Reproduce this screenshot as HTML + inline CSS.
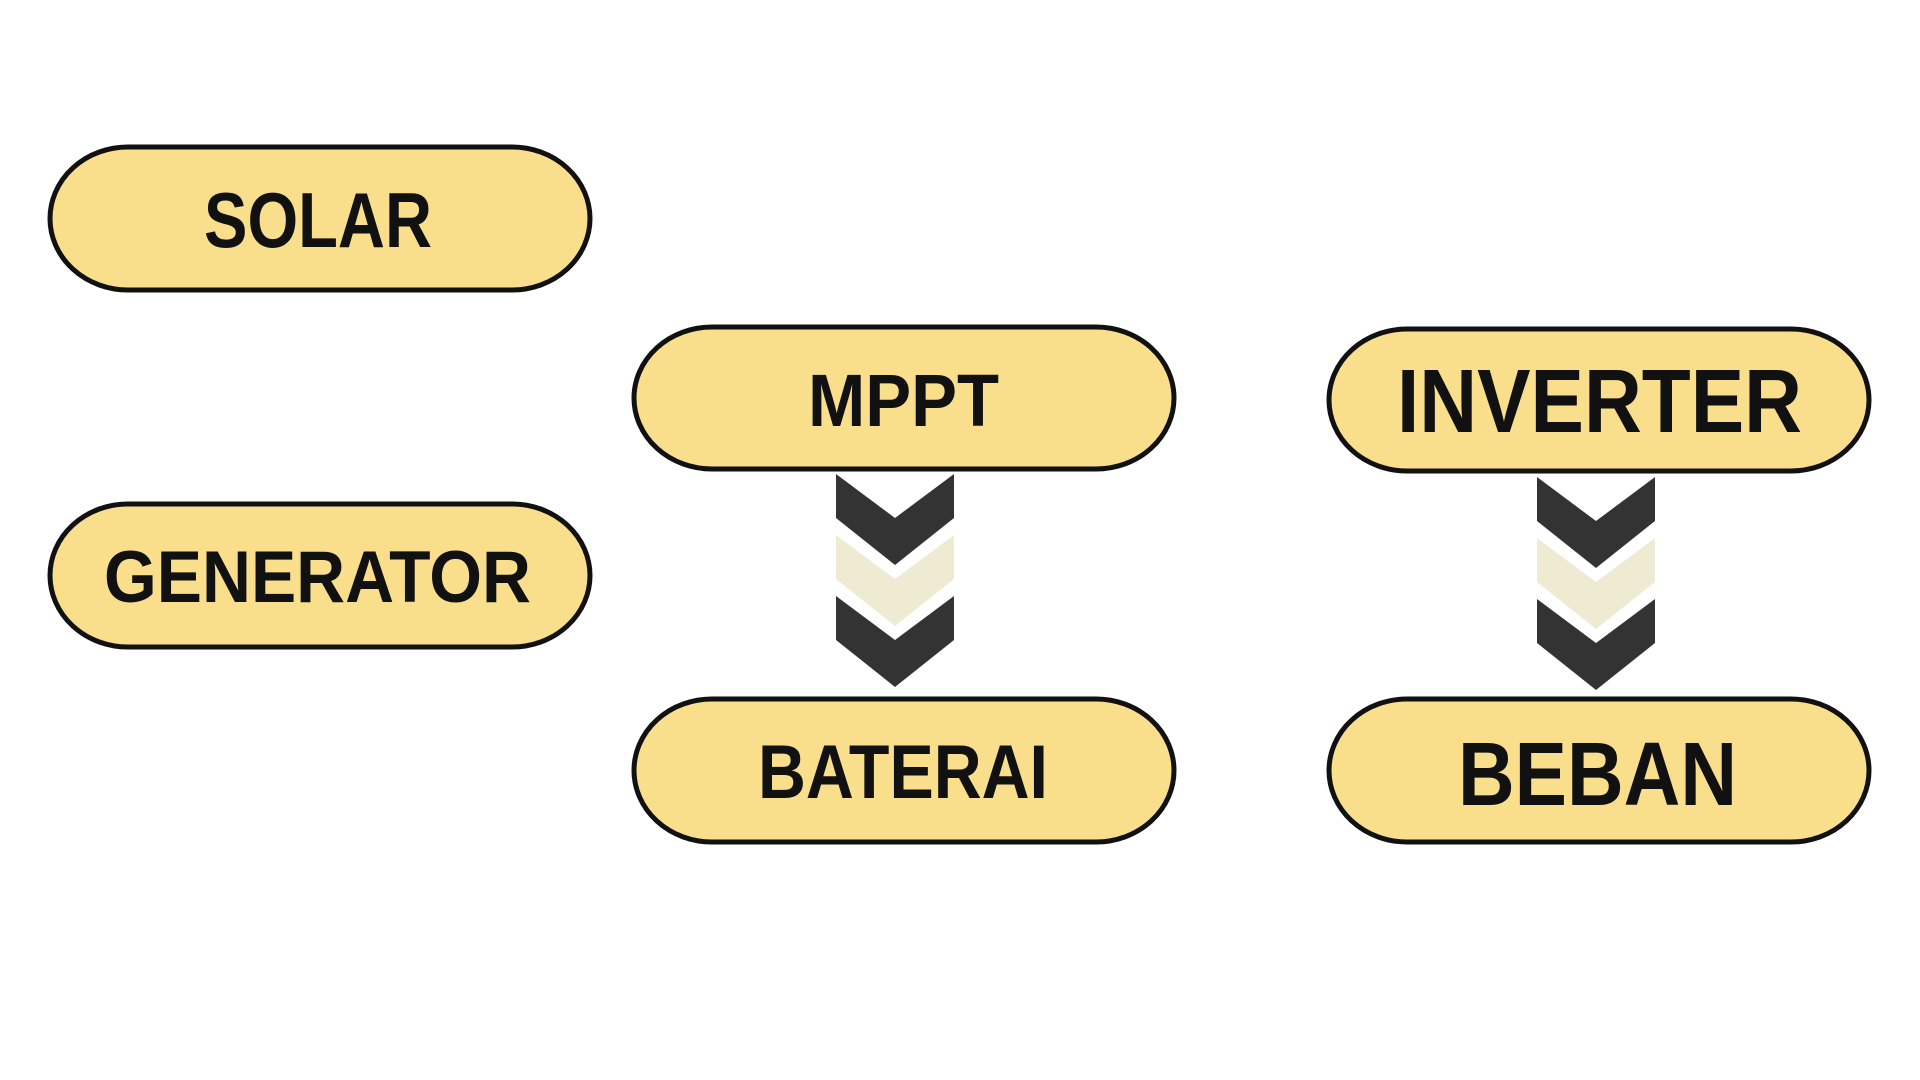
<!DOCTYPE html>
<html><head><meta charset="utf-8"><style>html,body{margin:0;padding:0;background:#fff;width:1920px;height:1080px;overflow:hidden}</style></head>
<body>
<svg width="1920" height="1080" viewBox="0 0 1920 1080" xmlns="http://www.w3.org/2000/svg">
<g fill="#f9df8c" stroke="#111" stroke-width="5">
<rect x="50" y="147" width="540" height="143" rx="78" ry="72"/>
<rect x="634" y="327" width="540" height="142" rx="78" ry="71"/>
<rect x="1329" y="329" width="540" height="142" rx="78" ry="71"/>
<rect x="50" y="504" width="540" height="143" rx="78" ry="72"/>
<rect x="634" y="699" width="540" height="143" rx="78" ry="72"/>
<rect x="1329" y="699" width="540" height="143" rx="78" ry="72"/>
</g>
<g font-family="'Liberation Sans', sans-serif" font-weight="bold" fill="#111" text-anchor="start">
<text x="204" y="247" font-size="78" textLength="228" lengthAdjust="spacingAndGlyphs">SOLAR</text>
<text x="808" y="426" font-size="74" textLength="191" lengthAdjust="spacingAndGlyphs">MPPT</text>
<text x="1397" y="432" font-size="90" textLength="405" lengthAdjust="spacingAndGlyphs">INVERTER</text>
<text x="104" y="602" font-size="73" textLength="427" lengthAdjust="spacingAndGlyphs">GENERATOR</text>
<text x="758" y="798" font-size="76" textLength="290" lengthAdjust="spacingAndGlyphs">BATERAI</text>
<text x="1458" y="805" font-size="90" textLength="279" lengthAdjust="spacingAndGlyphs">BEBAN</text>
</g>
<defs>
<path id="chev" d="M0,0 L59,44 L118,0 L118,44 L59,91 L0,44 Z"/>
</defs>
<g transform="translate(836,0)">
<use href="#chev" y="474" fill="#333"/>
<use href="#chev" y="535" fill="#efebd3"/>
<use href="#chev" y="596" fill="#333"/>
</g>
<g transform="translate(1537,0)">
<use href="#chev" y="477" fill="#333"/>
<use href="#chev" y="538" fill="#efebd3"/>
<use href="#chev" y="599" fill="#333"/>
</g>
</svg>
</body></html>
